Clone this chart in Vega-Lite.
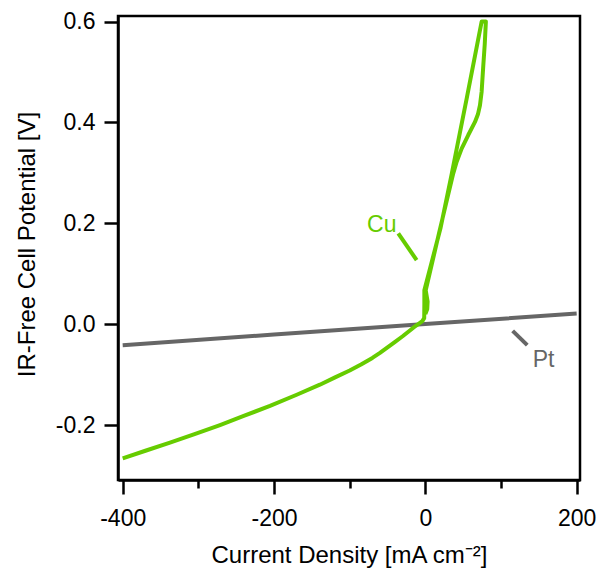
{
  "$schema": "https://vega.github.io/schema/vega-lite/v6.json",
  "width": 462,
  "height": 464,
  "autosize": {"type": "none"},
  "padding": {"left": 118, "top": 16, "right": 20, "bottom": 89},
  "background": "white",
  "config": {
    "view": {"stroke": "black", "strokeWidth": 2.5},
    "font": "Liberation Sans",
    "axis": {
      "grid": false,
      "domainColor": "black",
      "domainWidth": 2.5,
      "tickColor": "black",
      "tickWidth": 2.5,
      "labelFont": "Liberation Sans",
      "titleFont": "Liberation Sans",
      "labelFontSize": 23,
      "titleFontSize": 24,
      "labelColor": "black",
      "titleColor": "black",
      "titleFontWeight": "normal"
    }
  },
  "datasets": {
    "curves": [
      {"series": "Pt", "i": 1, "j": -400, "v": -0.0416},
      {"series": "Pt", "i": 2, "j": -200, "v": -0.0207},
      {"series": "Pt", "i": 3, "j": 0, "v": 0.0002},
      {"series": "Pt", "i": 4, "j": 200, "v": 0.0212},
      {"series": "Cu", "i": 1, "j": -400, "v": -0.266},
      {"series": "Cu", "i": 2, "j": -370, "v": -0.251},
      {"series": "Cu", "i": 3, "j": -337.5, "v": -0.235},
      {"series": "Cu", "i": 4, "j": -305, "v": -0.218},
      {"series": "Cu", "i": 5, "j": -271.4, "v": -0.2},
      {"series": "Cu", "i": 6, "j": -240, "v": -0.182},
      {"series": "Cu", "i": 7, "j": -205.3, "v": -0.162},
      {"series": "Cu", "i": 8, "j": -170, "v": -0.14},
      {"series": "Cu", "i": 9, "j": -139.4, "v": -0.12},
      {"series": "Cu", "i": 10, "j": -120, "v": -0.106},
      {"series": "Cu", "i": 11, "j": -100, "v": -0.092},
      {"series": "Cu", "i": 12, "j": -85, "v": -0.08},
      {"series": "Cu", "i": 13, "j": -70, "v": -0.067},
      {"series": "Cu", "i": 14, "j": -60, "v": -0.057},
      {"series": "Cu", "i": 15, "j": -50, "v": -0.046},
      {"series": "Cu", "i": 16, "j": -40, "v": -0.035},
      {"series": "Cu", "i": 17, "j": -30, "v": -0.024},
      {"series": "Cu", "i": 18, "j": -20, "v": -0.012},
      {"series": "Cu", "i": 19, "j": -15, "v": -0.006},
      {"series": "Cu", "i": 20, "j": -9.4, "v": 0.0},
      {"series": "Cu", "i": 21, "j": -4, "v": 0.006},
      {"series": "Cu", "i": 22, "j": -1.5, "v": 0.012},
      {"series": "Cu", "i": 23, "j": -1.3, "v": 0.04},
      {"series": "Cu", "i": 24, "j": -1.3, "v": 0.067},
      {"series": "Cu", "i": 25, "j": 20, "v": 0.19},
      {"series": "Cu", "i": 26, "j": 35, "v": 0.299},
      {"series": "Cu", "i": 27, "j": 55, "v": 0.45},
      {"series": "Cu", "i": 28, "j": 74.4, "v": 0.6},
      {"series": "Cu", "i": 29, "j": 80, "v": 0.6},
      {"series": "Cu", "i": 30, "j": 78.5, "v": 0.555},
      {"series": "Cu", "i": 31, "j": 76.6, "v": 0.513},
      {"series": "Cu", "i": 32, "j": 74.4, "v": 0.461},
      {"series": "Cu", "i": 33, "j": 72.2, "v": 0.434},
      {"series": "Cu", "i": 34, "j": 69.5, "v": 0.416},
      {"series": "Cu", "i": 35, "j": 65.6, "v": 0.401},
      {"series": "Cu", "i": 36, "j": 56.7, "v": 0.375},
      {"series": "Cu", "i": 37, "j": 48, "v": 0.348},
      {"series": "Cu", "i": 38, "j": 41.4, "v": 0.322},
      {"series": "Cu", "i": 39, "j": 36.9, "v": 0.299},
      {"series": "Cu", "i": 40, "j": 18, "v": 0.18},
      {"series": "Cu", "i": 41, "j": 0.5, "v": 0.067},
      {"series": "Cu", "i": 42, "j": 3, "v": 0.045},
      {"series": "Cu", "i": 43, "j": 2.5, "v": 0.03},
      {"series": "Cu", "i": 44, "j": 0, "v": 0.02}
    ],
    "notes": [
      {"series": "Cu", "label": "Cu", "tj": -77, "tv": 0.182, "j1": -35.8, "v1": 0.18, "j2": -11.5, "v2": 0.127},
      {"series": "Pt", "label": "Pt", "tj": 141.8, "tv": -0.085, "j1": 115.4, "v1": -0.0133, "j2": 134.7, "v2": -0.0416}
    ]
  },
  "layer": [
    {
      "data": {"name": "curves"},
      "mark": {"type": "line", "strokeWidth": 4, "clip": true, "strokeJoin": "round"},
      "encoding": {
        "x": {
          "field": "j", "type": "quantitative",
          "scale": {"domain": [-406.2, 204.4], "nice": false, "zero": false},
          "axis": {
            "orient": "bottom",
            "values": [-400, -200, 0, 200],
            "labelExpr": "(datum.value < 0 ? '-' : '') + format(abs(datum.value), 'd')",
            "tickSize": 14,
            "labelPadding": 13,
            "labelFlush": false,
            "title": "Current Density [mA cm\u207b\u00b2]",
            "titleY": 63,
            "titleBaseline": "top"
          }
        },
        "y": {
          "field": "v", "type": "quantitative",
          "scale": {"domain": [-0.309, 0.611], "nice": false, "zero": false},
          "axis": {
            "values": [-0.2, 0, 0.2, 0.4, 0.6],
            "labelExpr": "(datum.value < 0 ? '-' : '') + format(abs(datum.value), '.1f')",
            "tickSize": 14,
            "labelPadding": 9,
            "labelFlush": false,
            "title": "IR-Free Cell Potential [V]",
            "titleX": -91,
            "titleY": 228,
            "titleBaseline": "middle",
            "titleAlign": "center",
            "titleAngle": -90
          }
        },
        "color": {
          "field": "series", "type": "nominal",
          "scale": {"domain": ["Pt", "Cu"], "range": ["#666666", "#66cc00"]},
          "legend": null
        },
        "detail": {"field": "series"},
        "order": {"field": "i", "type": "quantitative"}
      }
    },
    {
      "data": {"name": "notes"},
      "mark": {"type": "rule", "strokeWidth": 4},
      "encoding": {
        "x": {
          "field": "j1", "type": "quantitative",
          "axis": {
            "orient": "bottom",
            "values": [-300, -100, 100],
            "tickSize": 8,
            "labels": false,
            "domain": false,
            "title": null
          }
        },
        "y": {"field": "v1", "type": "quantitative", "axis": null},
        "x2": {"field": "j2"},
        "y2": {"field": "v2"},
        "color": {"field": "series", "type": "nominal", "legend": null}
      }
    },
    {
      "data": {"name": "notes"},
      "mark": {"type": "text", "align": "left", "baseline": "alphabetic", "fontSize": 23, "font": "Liberation Sans"},
      "encoding": {
        "x": {"field": "tj", "type": "quantitative", "axis": null},
        "y": {"field": "tv", "type": "quantitative", "axis": null},
        "text": {"field": "label"},
        "color": {"field": "series", "type": "nominal", "legend": null}
      }
    }
  ],
  "resolve": {"axis": {"x": "independent", "y": "independent"}}
}
